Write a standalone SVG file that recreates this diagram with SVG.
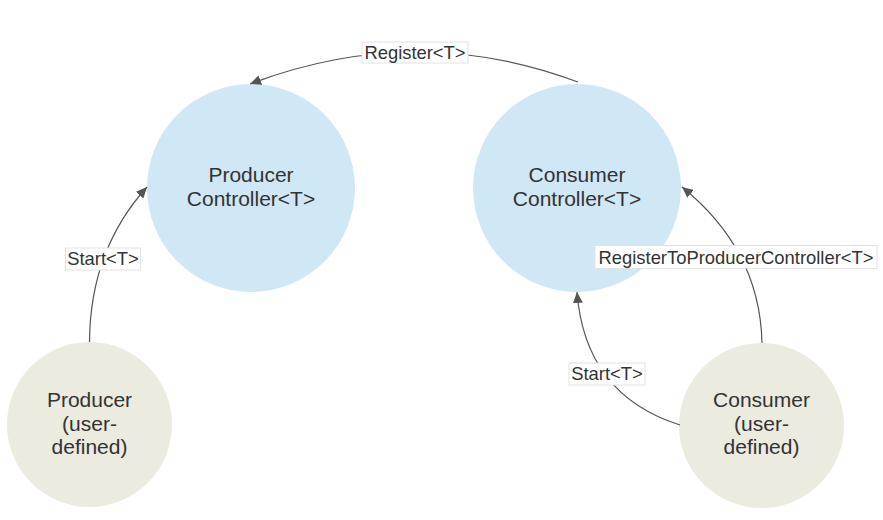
<svg xmlns="http://www.w3.org/2000/svg" width="883" height="520" viewBox="0 0 883 520">
<style>
.bg{fill:#ffffff}
.ctrl{fill:#d0e7f5}
.user{fill:#ebebe0}
.nt{font-family:"Liberation Sans",Arial,sans-serif;font-size:21px;fill:#333333;text-anchor:middle}
.edge{fill:none;stroke:#555555;stroke-width:1.2;marker-end:url(#arrow)}
.lbox{fill:#ffffff;stroke:#e2e2e2;stroke-width:1}
.lt{font-family:"Liberation Sans",Arial,sans-serif;font-size:18.4px;fill:#333333;text-anchor:middle}
</style>
<defs>
<marker id="arrow" markerUnits="userSpaceOnUse" markerWidth="12" markerHeight="10" refX="11" refY="5" orient="auto">
<path d="M0,0 L11,5 L0,10 z" fill="#555555"/>
</marker>
</defs>
<rect class="bg" x="0" y="0" width="883" height="520"/>
<g id="node-producer-controller">
<circle class="ctrl" cx="251" cy="188" r="104"/>
<text class="nt" x="251" y="182">Producer</text>
<text class="nt" x="251" y="205.5">Controller&lt;T&gt;</text>
</g>
<g id="node-consumer-controller">
<circle class="ctrl" cx="577" cy="188" r="104"/>
<text class="nt" x="577" y="182">Consumer</text>
<text class="nt" x="577" y="205.5">Controller&lt;T&gt;</text>
</g>
<g id="node-producer">
<circle class="user" cx="89.5" cy="424.5" r="82.5"/>
<text class="nt" x="89.5" y="407">Producer</text>
<text class="nt" x="89.5" y="430.5">(user-</text>
<text class="nt" x="89.5" y="454">defined)</text>
</g>
<g id="node-consumer">
<circle class="user" cx="761.5" cy="425.5" r="82.5"/>
<text class="nt" x="761.5" y="407">Consumer</text>
<text class="nt" x="761.5" y="430.5">(user-</text>
<text class="nt" x="761.5" y="454">defined)</text>
</g>
<g id="connectors">
<path class="edge" d="M578,82 Q415,21 250,84"/>
<path class="edge" d="M89.5,342 Q90,250 147,187"/>
<path class="edge" d="M762,343 Q760,250 682,187"/>
<path class="edge" d="M680,425 Q585,395 577,292"/>
<rect class="lbox" x="362" y="42" width="106" height="21"/>
<text class="lt" x="415" y="58.5">Register&lt;T&gt;</text>
<rect class="lbox" x="65.5" y="248" width="75" height="22"/>
<text class="lt" x="103" y="265">Start&lt;T&gt;</text>
<rect class="lbox" x="595" y="245.5" width="282" height="23"/>
<text class="lt" x="736" y="263.5">RegisterToProducerController&lt;T&gt;</text>
<rect class="lbox" x="569" y="363" width="76" height="22"/>
<text class="lt" x="607" y="380">Start&lt;T&gt;</text>
</g>
</svg>
